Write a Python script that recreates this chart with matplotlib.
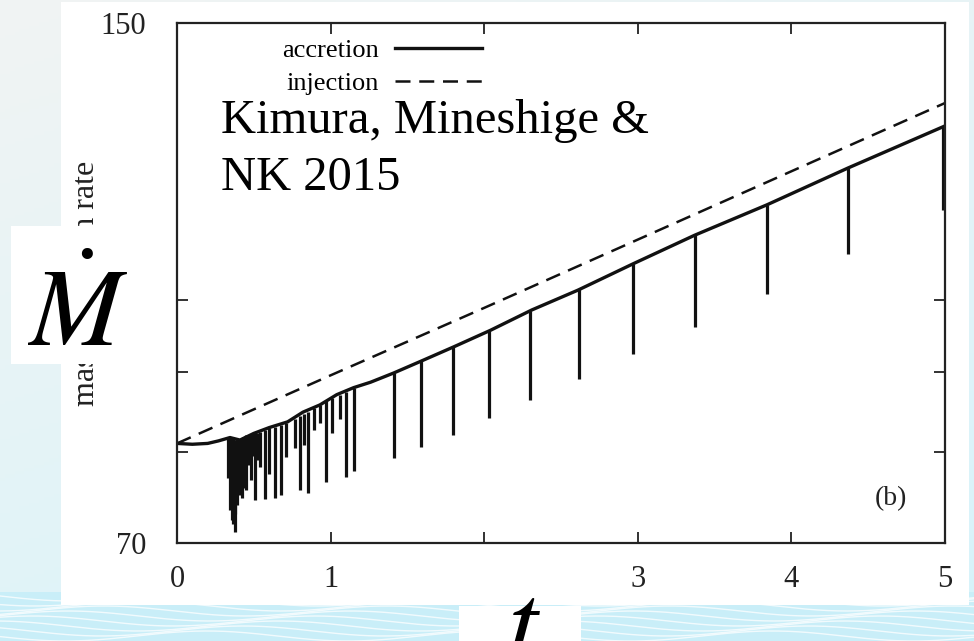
import numpy as np
import matplotlib.pyplot as plt
from matplotlib.patches import Rectangle
from matplotlib.lines import Line2D
from matplotlib.ticker import FixedLocator, NullLocator

plt.rcParams['font.family'] = ['Liberation Serif', 'DejaVu Serif']
plt.rcParams['mathtext.fontset'] = 'stix'

# injection rate (dashed), straight on the log axis
inj_t = [0, 1, 2, 3, 4, 5]
inj_rate = [81.0, 89.5, 98.8, 109.2, 120.7, 133.4]

# accretion rate, upper envelope
acc_t = [0, 0.1, 0.2, 0.27, 0.345, 0.41, 0.5, 0.6, 0.72, 0.82, 0.93, 1.04,
         1.15, 1.26, 1.41, 1.58, 1.80, 2.04, 2.31, 2.61, 2.97, 3.37, 3.84,
         4.37, 5.0]
acc_rate = [81.0, 80.9, 81.0, 81.3, 81.7, 81.4, 82.2, 82.9, 83.6, 84.8, 85.7,
            87.0, 87.9, 88.6, 89.8, 91.3, 93.3, 95.6, 98.5, 101.4, 105.4,
            109.9, 114.9, 121.3, 129.0]

# accretion dips (time, level before dip, bottom of dip)
spike_t = [0.335, 0.345, 0.35, 0.36, 0.365, 0.375, 0.38, 0.39, 0.40, 0.41,
           0.42, 0.43, 0.44, 0.45, 0.465, 0.48, 0.495, 0.51, 0.525, 0.54,
           0.57, 0.60, 0.64, 0.68, 0.71, 0.77, 0.80, 0.83, 0.85, 0.89, 0.93,
           0.97, 1.01, 1.06, 1.10, 1.15,
           1.41, 1.59, 1.80, 2.03, 2.30, 2.62, 2.97, 3.37, 3.84, 4.37, 4.99]
spike_top = [81.7, 81.7, 81.6, 81.5, 81.5, 81.4, 81.4, 81.4, 81.4, 81.5,
             81.6, 81.8, 81.9, 82.0, 82.0, 82.0, 82.1, 82.2, 82.3, 82.4,
             82.6, 82.8, 83.0, 83.2, 83.4, 84.0, 84.3, 84.6, 84.8, 85.3, 85.7,
             86.2, 86.6, 87.0, 87.3, 87.9,
             89.8, 91.4, 93.3, 95.5, 98.4, 101.5, 105.4, 109.9, 114.9, 121.4, 128.9]
spike_bottom = [77.0, 73.5, 74.5, 72.4, 72.0, 71.1, 73.0, 74.0, 76.5, 75.1,
                74.8, 75.9, 77.5, 75.6, 78.5, 76.8, 79.5, 74.5, 79.0, 78.2,
                74.7, 77.4, 74.8, 75.1, 79.4, 80.5, 75.6, 80.8, 75.3, 82.6, 83.5,
                76.5, 82.2, 84.0, 77.1, 77.8,
                79.3, 80.6, 82.0, 84.1, 86.3, 89.0, 92.3, 96.1, 100.8, 106.9, 114.0]

W, H = 974, 641
fig = plt.figure(figsize=(W / 100, H / 100), dpi=100)

# slide background
bg = fig.add_axes([0, 0, 1, 1], zorder=0)
bg.set_xlim(0, W)
bg.set_ylim(H, 0)
bg.axis('off')
yy, xx = np.mgrid[0:1:200j, 0:1:200j]
mix = np.clip(0.65 * yy + 0.35 * xx, 0, 1)[..., None]
c0 = np.array([0.945, 0.953, 0.953])
c1 = np.array([0.84, 0.955, 0.985])
bg.imshow(c0 + (c1 - c0) * mix, extent=[0, W, H, 0], aspect='auto')
bg.add_patch(Rectangle((0, 592), W, 60, color='#c9eef8', lw=0))
xw = np.linspace(0, W, 400)
for k in range(9):
    bg.plot(xw, 596 + 5 * k + 5 * np.sin(xw / 45.0 + 0.8 * k), color='white',
            lw=1.0, alpha=0.75)
bg.add_patch(Rectangle((61, 2), 908, 603, color='white', lw=0))

# chart
ax = fig.add_axes([177 / W, 1 - 543 / H, 768 / W, 520 / H], zorder=1)
ax.set_facecolor('white')
ax.plot(inj_t, inj_rate, color='#111111', lw=1.8, dashes=(6, 3.5))
ax.plot(acc_t, acc_rate, color='#111111', lw=2.4)
ax.vlines(spike_t, spike_bottom, spike_top, colors='#111111', lw=2.3)

ax.set_yscale('log')
ax.set_xlim(0, 5)
ax.set_ylim(70, 150)
ax.xaxis.set_major_locator(FixedLocator([0, 1, 2, 3, 4, 5]))
ax.set_xticklabels(['0', '1', '', '3', '4', '5'])
ax.yaxis.set_major_locator(FixedLocator([70, 80, 90, 100, 150]))
ax.yaxis.set_minor_locator(NullLocator())
ax.set_yticklabels(['70', '', '', '', '150'])
ax.tick_params(direction='in', top=True, right=True, length=8, width=1.3,
               labelsize=22, colors='#222222')
ax.tick_params(axis='x', pad=16)
ax.tick_params(axis='y', pad=22)
for s in ax.spines.values():
    s.set_linewidth(1.6)
    s.set_color('#222222')
ax.set_ylabel('mass accretion rate', fontsize=23, labelpad=0, color='#222222')

handles = [Line2D([], [], color='#111111', lw=2.4),
           Line2D([], [], color='#111111', lw=1.8, dashes=(6, 3.5))]
ax.legend(handles, ['accretion', 'injection'], loc='upper right',
          bbox_to_anchor=(0.397, 0.97), markerfirst=False, frameon=False,
          fontsize=19, handlelength=3.3, labelspacing=0.35, handletextpad=0.6,
          borderpad=0, borderaxespad=0)

ax.text(0.0573, 0.7885, 'Kimura, Mineshige &', transform=ax.transAxes,
        fontsize=35, va='baseline', ha='left')
ax.text(0.0573, 0.6788, 'NK 2015', transform=ax.transAxes,
        fontsize=35, va='baseline', ha='left')
ax.text(0.9505, 0.0846, '(b)', transform=ax.transAxes, fontsize=20,
        ha='right', va='center', color='#222222')

# slide overlays: Mdot and t boxes
ov = fig.add_axes([0, 0, 1, 1], zorder=3)
ov.set_xlim(0, W)
ov.set_ylim(H, 0)
ov.axis('off')
ov.patch.set_alpha(0)
ov.add_patch(Rectangle((11, 226), 152, 138, color='white', lw=0))
ov.add_patch(Rectangle((459, 606), 122, 40, color='white', lw=0))
ov.text(77, 346, r'$\dot{M}$', fontsize=80, ha='center', va='baseline')
ov.text(523, 659, r'$t$', fontsize=80, ha='center', va='baseline')

fig.savefig('out.png', dpi=100)
